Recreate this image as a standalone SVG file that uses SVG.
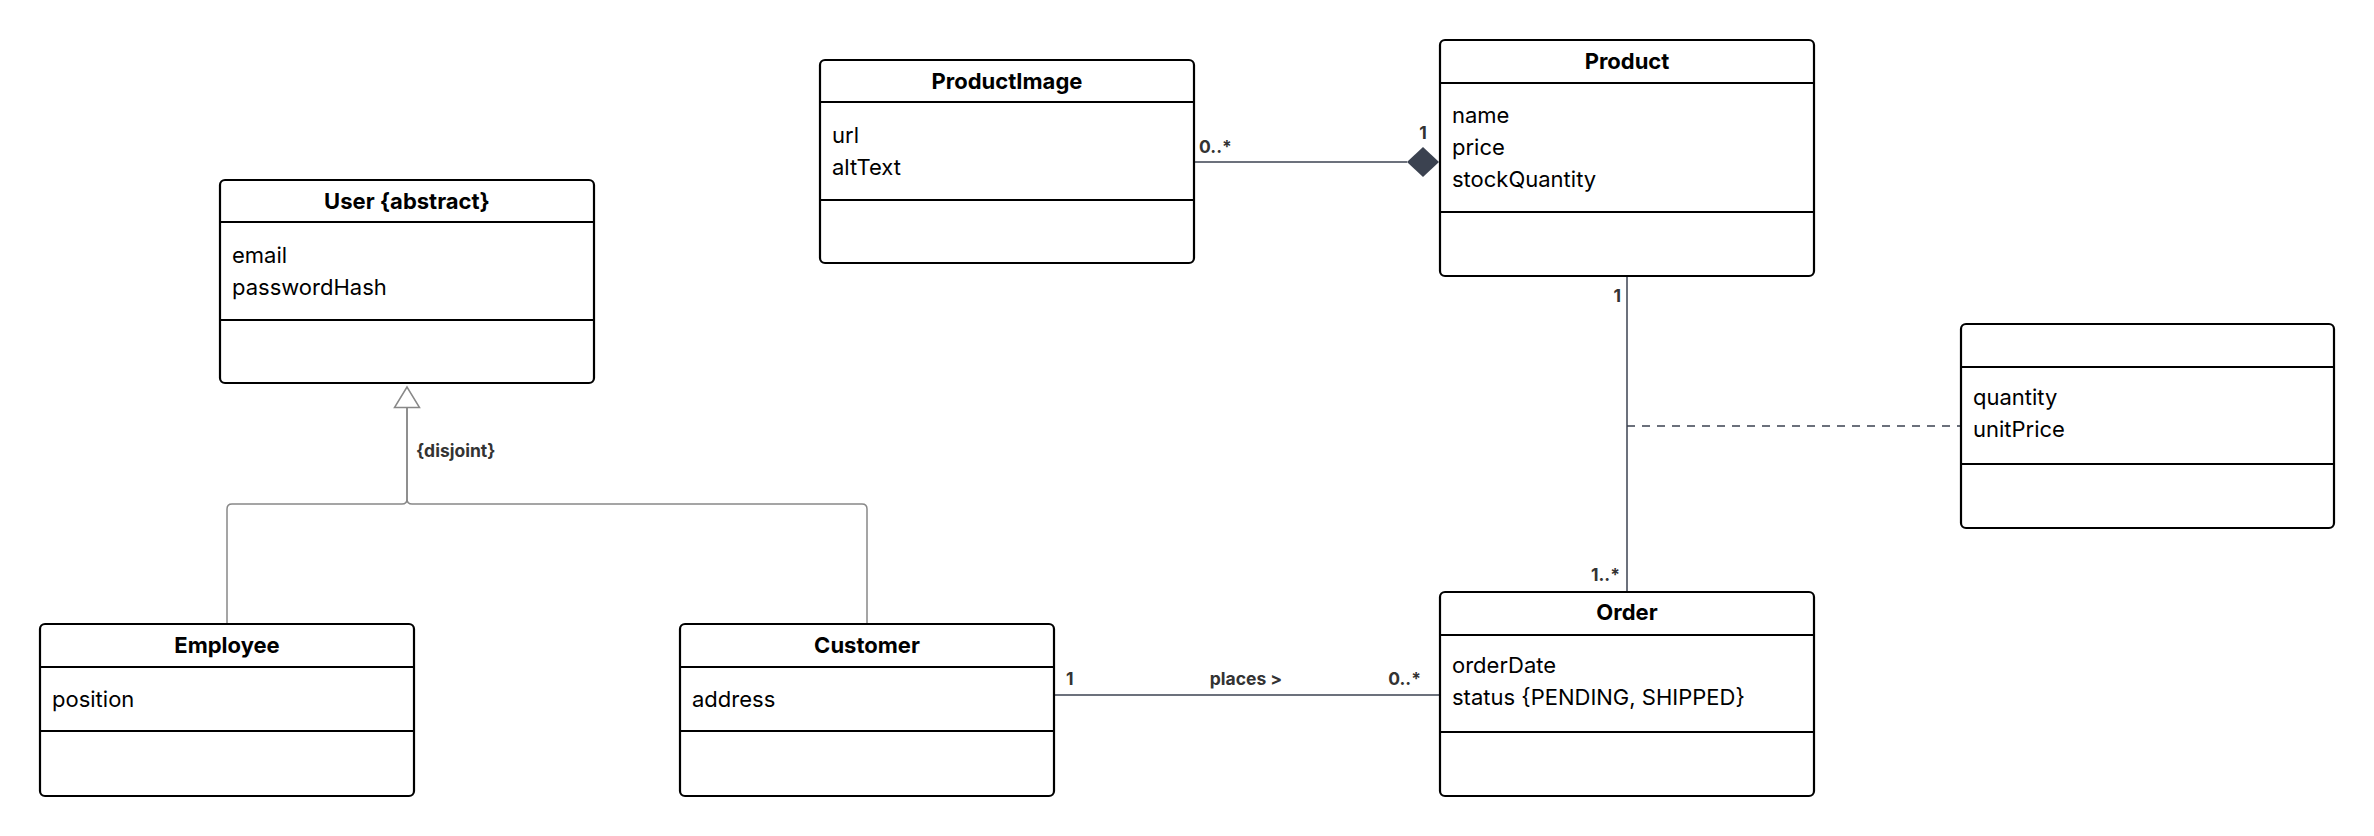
<svg xmlns="http://www.w3.org/2000/svg" width="2374" height="836" viewBox="0 0 2374 836">
<style>
.box{fill:#fff;stroke:#000;stroke-width:2.2}
.div{stroke:#000;stroke-width:2.2}
.title{font-family:Inter,"Liberation Sans",sans-serif;font-size:22px;font-weight:700;fill:#000;text-anchor:middle}
.attr{font-family:Inter,"Liberation Sans",sans-serif;font-size:22px;fill:#000}
.lbl{font-family:Inter,"Liberation Sans",sans-serif;font-size:17.5px;font-weight:700;fill:#333}
.assoc{fill:none;stroke:#3b4250;stroke-width:1.5}
.gen{fill:none;stroke:#888;stroke-width:1.5}
</style>
<rect width="2374" height="836" fill="#fff"/>
<g id="connectors">
  <path class="gen" d="M407,407.5 V499 Q407,504 402,504 H232 Q227,504 227,509 V624"/>
  <path class="gen" d="M407,407.5 V499 Q407,504 412,504 H862 Q867,504 867,509 V624"/>
  <polygon points="407,387 394.5,407.5 419.5,407.5" fill="#fff" stroke="#888" stroke-width="1.5"/>
  <text class="lbl" x="416" y="457">{disjoint}</text>
  <line class="assoc" x1="1194" y1="162" x2="1407" y2="162"/>
  <polygon points="1407,162 1423,147 1439,162 1423,177" fill="#3b4250"/>
  <text class="lbl" x="1199" y="153">0..*</text>
  <text class="lbl" x="1423" y="139" text-anchor="middle">1</text>
  <line class="assoc" x1="1627" y1="276" x2="1627" y2="592"/>
  <text class="lbl" x="1621" y="302" text-anchor="end">1</text>
  <text class="lbl" x="1620" y="581" text-anchor="end">1..*</text>
  <line class="assoc" x1="1627" y1="426" x2="1961" y2="426" stroke-dasharray="8,7"/>
  <line class="assoc" x1="1054" y1="695" x2="1440" y2="695"/>
  <text class="lbl" x="1066" y="685">1</text>
  <text class="lbl" x="1246" y="685" text-anchor="middle">places &gt;</text>
  <text class="lbl" x="1421" y="685" text-anchor="end">0..*</text>
</g>
<g id="User">
  <rect class="box" x="220" y="180" width="374" height="203" rx="5"/>
  <line class="div" x1="220" y1="222" x2="594" y2="222"/>
  <line class="div" x1="220" y1="320" x2="594" y2="320"/>
  <text class="title" x="407" y="209">User {abstract}</text>
  <text class="attr" x="232" y="263">email</text>
  <text class="attr" x="232" y="295">passwordHash</text>
</g>
<g id="ProductImage">
  <rect class="box" x="820" y="60" width="374" height="203" rx="5"/>
  <line class="div" x1="820" y1="102" x2="1194" y2="102"/>
  <line class="div" x1="820" y1="200" x2="1194" y2="200"/>
  <text class="title" x="1007" y="89">ProductImage</text>
  <text class="attr" x="832" y="143">url</text>
  <text class="attr" x="832" y="175">altText</text>
</g>
<g id="Product">
  <rect class="box" x="1440" y="40" width="374" height="236" rx="5"/>
  <line class="div" x1="1440" y1="83" x2="1814" y2="83"/>
  <line class="div" x1="1440" y1="212" x2="1814" y2="212"/>
  <text class="title" x="1627" y="69">Product</text>
  <text class="attr" x="1452" y="123">name</text>
  <text class="attr" x="1452" y="155">price</text>
  <text class="attr" x="1452" y="187">stockQuantity</text>
</g>
<g id="OrderLine">
  <rect class="box" x="1961" y="324" width="373" height="204" rx="5"/>
  <line class="div" x1="1961" y1="367" x2="2334" y2="367"/>
  <line class="div" x1="1961" y1="464" x2="2334" y2="464"/>
  <text class="attr" x="1973" y="405">quantity</text>
  <text class="attr" x="1973" y="437">unitPrice</text>
</g>
<g id="Employee">
  <rect class="box" x="40" y="624" width="374" height="172" rx="5"/>
  <line class="div" x1="40" y1="667" x2="414" y2="667"/>
  <line class="div" x1="40" y1="731" x2="414" y2="731"/>
  <text class="title" x="227" y="653">Employee</text>
  <text class="attr" x="52" y="707">position</text>
</g>
<g id="Customer">
  <rect class="box" x="680" y="624" width="374" height="172" rx="5"/>
  <line class="div" x1="680" y1="667" x2="1054" y2="667"/>
  <line class="div" x1="680" y1="731" x2="1054" y2="731"/>
  <text class="title" x="867" y="653">Customer</text>
  <text class="attr" x="692" y="707">address</text>
</g>
<g id="Order">
  <rect class="box" x="1440" y="592" width="374" height="204" rx="5"/>
  <line class="div" x1="1440" y1="635" x2="1814" y2="635"/>
  <line class="div" x1="1440" y1="732" x2="1814" y2="732"/>
  <text class="title" x="1627" y="620">Order</text>
  <text class="attr" x="1452" y="673">orderDate</text>
  <text class="attr" x="1452" y="705">status {PENDING, SHIPPED}</text>
</g>
</svg>
